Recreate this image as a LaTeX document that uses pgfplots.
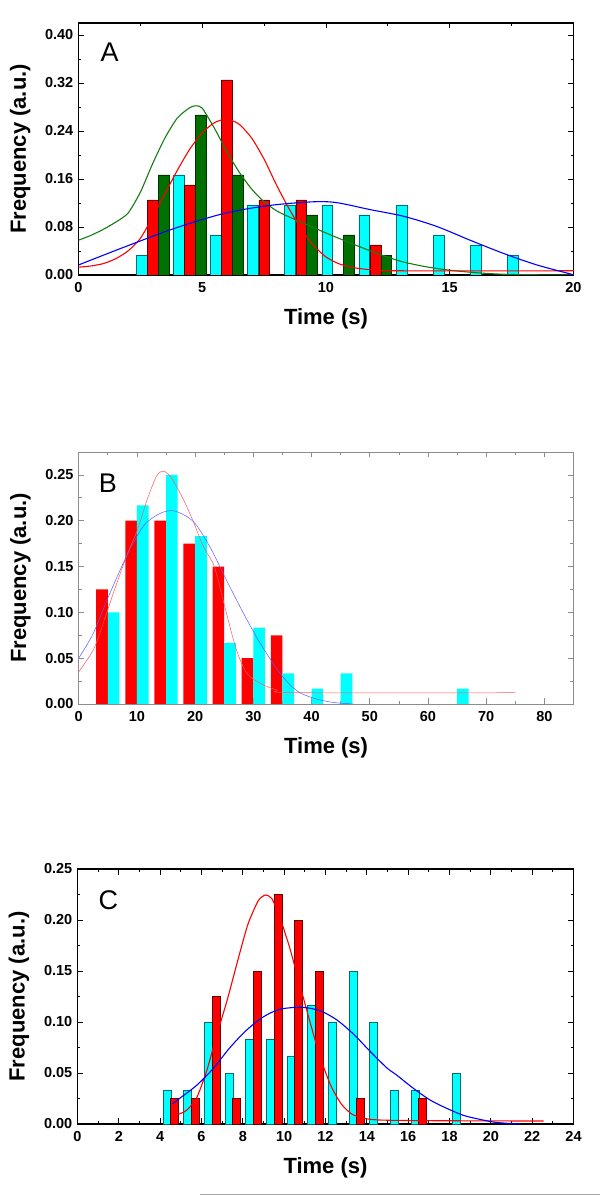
\documentclass[border=0pt]{standalone}
\usepackage{fontspec}
\setmainfont{Liberation Sans}
\usepackage{pgfplots}
\pgfplotsset{compat=1.18}

\definecolor{cy}{RGB}{0,255,255}
\definecolor{cyd}{RGB}{0,110,110}
\definecolor{rd}{RGB}{255,0,0}
\definecolor{rdd}{RGB}{100,0,0}
\definecolor{gn}{RGB}{0,112,0}
\definecolor{gnd}{RGB}{0,50,0}
\definecolor{gnl}{RGB}{20,125,20}
\definecolor{bl}{RGB}{0,0,255}
\definecolor{rdl}{RGB}{255,90,90}
\definecolor{bll}{RGB}{90,90,255}

\tikzset{letter/.style={font=\fontsize{27}{27}\selectfont, anchor=center}}
\pgfplotsset{
  panel/.style={
    scale only axis,
    tick align=inside,
    major tick length=5.5pt,
    minor tick length=3pt,
    /pgf/number format/assume math mode=true,
    tick label style={font=\fontsize{14.5}{14.5}\selectfont\bfseries, inner sep=0pt},
    yticklabel style={/pgf/number format/fixed, /pgf/number format/fixed zerofill, /pgf/number format/precision=2, anchor=east, xshift=-5pt},
    xticklabel style={anchor=center, yshift=-12.3pt},
    label style={font=\fontsize{22}{22}\selectfont\bfseries},
    xlabel style={at={(axis description cs:0.5,0)}, anchor=center, yshift=-44pt},
    ylabel style={at={(axis description cs:-0.118,0.5)}, anchor=center},
    xlabel={Time (s)},
    ylabel={Frequency (a.u.)},
    minor x tick num=1,
    minor y tick num=1,
  },
}

\begin{document}
\begin{tikzpicture}[x=1pt,y=1pt]
\path[use as bounding box] (0,0) rectangle (600,1195);

% ---------------- Panel A ----------------
\begin{axis}[panel, at={(78.5pt,920pt)}, anchor=south west,
  width=495pt, height=252pt,
  xmin=0, xmax=20, ymin=0, ymax=0.42,
  xtick={0,5,10,15,20},
  ytick={0,0.08,0.16,0.24,0.32,0.40},
  axis line style={line width=1.1pt},
  tick style={line width=0.9pt, black},
]
\addplot[ybar, bar width=0.434, bar shift=0pt, fill=cy, draw=cyd, line width=0.5pt]
coordinates {(2.55,0.0333) (4.05,0.1667) (5.55,0.0667) (7.05,0.1167) (8.55,0.1167) (10.05,0.1167) (11.55,0.1) (13.05,0.1167) (14.55,0.0667) (16.05,0.05) (17.55,0.0333)};
\addplot[ybar, bar width=0.434, bar shift=0pt, fill=rd, draw=rdd, line width=0.5pt]
coordinates {(3.0,0.125) (4.5,0.15) (6.0,0.325) (7.5,0.125) (9.0,0.125) (12.0,0.05)};
\addplot[ybar, bar width=0.434, bar shift=0pt, fill=gn, draw=gnd, line width=0.5pt]
coordinates {(3.43,0.1667) (4.93,0.2667) (6.43,0.1667) (9.43,0.1) (10.93,0.0667) (12.43,0.0333)};
\addplot[gnl, line width=1.1pt, smooth, tension=0.4, no marks]
coordinates {(0,0.058) (0.5,0.066) (1.0,0.076) (1.5,0.088) (2.0,0.103) (2.5,0.138) (3.0,0.186) (3.5,0.229) (4.0,0.262) (4.5,0.279) (4.75,0.282) (5.0,0.278) (5.5,0.244) (6.0,0.205) (6.5,0.171) (7.0,0.143) (7.5,0.122) (8.0,0.107) (8.5,0.097) (9.0,0.088) (9.5,0.079) (10.0,0.070) (11.0,0.053) (12.0,0.037) (13.0,0.023) (14.0,0.014) (15.0,0.008) (16.0,0.004) (17.0,0.0015) (18.0,0.0005) (20.0,0)};
\addplot[rd, line width=1.1pt, smooth, tension=0.4, no marks]
coordinates {(0,0.013) (0.5,0.015) (1.0,0.019) (1.5,0.027) (2.0,0.040) (2.5,0.061) (3.0,0.097) (3.5,0.136) (4.0,0.175) (4.5,0.210) (5.0,0.237) (5.5,0.254) (6.0,0.260) (6.5,0.251) (7.0,0.228) (7.5,0.193) (8.0,0.150) (8.5,0.111) (9.0,0.077) (9.5,0.049) (10.0,0.030) (10.5,0.019) (11.0,0.013) (11.5,0.010) (12.0,0.008) (13.0,0.007) (20,0.007)};
\addplot[bl, line width=1.1pt, smooth, no marks]
coordinates {(0,0.0167) (1.88,0.047) (3.9,0.078) (5.92,0.103) (7.74,0.116) (9.49,0.122) (10.43,0.1206) (11.78,0.109) (13.12,0.098) (14.47,0.081) (15.82,0.058) (17.17,0.036) (18.5,0.017) (19.85,0.002) (20,0)};
\node[letter] at (axis description cs:0.063,0.886) {A};
\end{axis}

% ---------------- Panel B ----------------
\begin{axis}[panel, at={(78.7pt,491pt)}, anchor=south west,
  width=494.8pt, height=252pt,
  xmin=0, xmax=85, ymin=0, ymax=0.275,
  xtick={0,10,20,30,40,50,60,70,80},
  ytick={0,0.05,0.10,0.15,0.20,0.25},
  axis line style={line width=0.8pt, black!45},
  tick style={line width=0.7pt, black!45},
]
\addplot[ybar, bar width=2, bar shift=0pt, fill=rd, draw=none]
coordinates {(4,0.125) (9,0.2) (14,0.2) (19,0.175) (24,0.15) (29,0.05) (34,0.075)};
\addplot[ybar, bar width=2, bar shift=0pt, fill=cy, draw=none]
coordinates {(6,0.1) (11,0.2167) (16,0.25) (21,0.1833) (26,0.0667) (31,0.0833) (36,0.0333) (41,0.0167) (46,0.0333) (66,0.0167)};
\addplot[rdl, line width=0.5pt, smooth, no marks]
coordinates {(0,0.035) (2.5,0.059) (4.2,0.088) (5.95,0.121) (8.2,0.161) (10.1,0.19) (11.7,0.222) (13.4,0.249) (14.66,0.254) (16,0.246) (18,0.223) (19.7,0.199) (21.4,0.172) (23.3,0.15) (25.1,0.106) (27.1,0.059) (28.9,0.0335) (31.2,0.0226) (34,0.0153) (36.9,0.0124) (75,0.0123)};
\addplot[bll, line width=0.5pt, smooth, no marks]
coordinates {(0,0.05) (2.5,0.077) (5.1,0.117) (8.2,0.161) (11.1,0.194) (14,0.208) (16.5,0.2106) (19.7,0.199) (22.5,0.172) (25.4,0.135) (28.3,0.099) (31.2,0.066) (34.3,0.036) (36.3,0.021) (38.2,0.0116) (41.1,0.005) (44,0.0015) (47.2,0)};
\node[letter] at (axis description cs:0.059,0.877) {B};
\end{axis}

% ---------------- Panel C ----------------
\begin{axis}[panel, at={(77.5pt,71pt)}, anchor=south west,
  width=496pt, height=255pt,
  xmin=0, xmax=24, ymin=0, ymax=0.25,
  xtick={0,2,4,6,8,10,12,14,16,18,20,22,24},
  ytick={0,0.05,0.10,0.15,0.20,0.25},
  axis line style={line width=1.1pt},
  tick style={line width=0.9pt, black},
]
\addplot[ybar, bar width=0.38, bar shift=0pt, fill=cy, draw=cyd, line width=0.5pt]
coordinates {(4.33,0.0333) (5.33,0.0333) (6.33,0.1) (7.33,0.05) (8.33,0.0833) (9.33,0.0833) (10.33,0.0667) (11.33,0.1167) (12.33,0.1) (13.33,0.15) (14.33,0.1) (15.33,0.0333) (16.33,0.0333) (18.33,0.05)};
\addplot[ybar, bar width=0.38, bar shift=0pt, fill=rd, draw=rdd, line width=0.5pt]
coordinates {(4.7,0.025) (5.7,0.025) (6.7,0.125) (7.7,0.025) (8.7,0.15) (9.7,0.225) (10.7,0.2) (11.7,0.15) (13.7,0.025) (16.7,0.025)};
\addplot[rd, line width=1.1pt, smooth, tension=0.4, no marks]
coordinates {(4.8,0.009) (5.25,0.013) (5.75,0.025) (6.25,0.052) (6.75,0.088) (7.25,0.122) (7.75,0.160) (8.25,0.196) (8.75,0.219) (9.1,0.2245) (9.4,0.221) (9.75,0.205) (10.25,0.174) (10.75,0.137) (11.25,0.100) (11.75,0.065) (12.25,0.038) (12.75,0.020) (13.25,0.010) (13.75,0.006) (14.5,0.004) (16.5,0.0033) (22.55,0.0029)};
\addplot[bl, line width=1.1pt, smooth, no marks]
coordinates {(4.6,0.0196) (5.0,0.026) (5.77,0.038) (6.57,0.0545) (7.38,0.075) (8.18,0.092) (8.99,0.105) (9.8,0.1125) (10.85,0.1144) (11.74,0.111) (12.55,0.102) (13.36,0.088) (14.17,0.071) (14.97,0.055) (15.44,0.048) (16.25,0.035) (17.06,0.0235) (17.86,0.0154) (18.67,0.0085) (19.48,0.0045) (20.28,0.0015) (21.4,0)};
\node[letter] at (axis description cs:0.062,0.878) {C};
\end{axis}

\draw[black!35, line width=0.8pt] (200,1) -- (600,1);
\end{tikzpicture}
\end{document}
